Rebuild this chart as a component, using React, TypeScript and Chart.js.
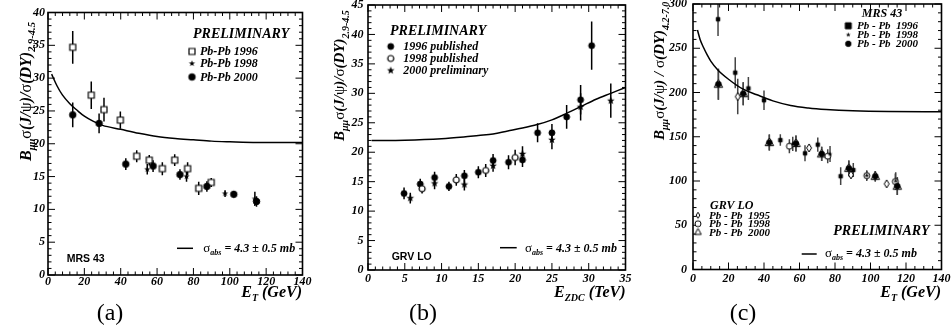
import React, { useEffect, useRef } from 'react';
import { Chart, registerables } from 'chart.js';
Chart.register(...registerables);

// ---------------- Panel (a): E_T (GeV) ----------------
const aXTicks = [0, 20, 40, 60, 80, 100, 120, 140];
const aYTicks = [0, 5, 10, 15, 20, 25, 30, 35, 40];
const a96X = [13.6, 23.8, 30.8, 39.8, 48.8, 55.7, 62.9, 69.7, 76.8, 82.9, 89.8];
const a96Y = [34.7, 27.4, 25.2, 23.6, 18.1, 17.5, 16.2, 17.5, 16.2, 13.2, 14.1];
const a96E = [2.5, 2.1, 1.8, 1.3, 0.9, 0.8, 1.0, 0.9, 1.0, 1.0, 0.7];
const a98X = [54.6, 76.2, 97.4, 113.8];
const a98Y = [16.1, 15.0, 12.4, 11.6];
const a98E = [0.8, 0.8, 0.5, 1.1];
const a00X = [13.6, 28.1, 42.8, 57.8, 72.6, 87.4, 102.2, 114.7];
const a00Y = [24.4, 23.1, 16.9, 16.6, 15.3, 13.5, 12.3, 11.2];
const a00E = [1.9, 1.5, 0.9, 0.9, 0.8, 0.8, 0.5, 0.8];
const aCurveX = [2, 5, 8, 12, 16, 20, 25, 30, 40, 50, 60, 70, 80, 90, 100, 115, 140];
const aCurveY = [30.6, 28.8, 27.4, 26.1, 25.1, 24.2, 23.4, 22.8, 22.2, 21.6, 21.1, 20.8, 20.6, 20.4, 20.3, 20.2, 20.2];

// ---------------- Panel (b): E_ZDC (TeV) ----------------
const bXTicks = [0, 5, 10, 15, 20, 25, 30, 35];
const bYTicks = [0, 5, 10, 15, 20, 25, 30, 35, 40, 45];
const b96X = [4.9, 7.1, 9.05, 11.0, 13.1, 15.0, 17.0, 19.1, 21.0, 23.05, 25.0, 27.0, 28.9, 30.4];
const b96Y = [13.0, 14.6, 15.7, 14.2, 16.0, 16.6, 18.6, 18.3, 18.7, 23.3, 23.3, 26.0, 28.9, 38.1];
const b96E = [1.0, 0.9, 1.0, 0.8, 1.0, 1.0, 1.1, 1.2, 1.2, 1.6, 1.5, 2.0, 2.5, 4.1];
const b98X = [7.35, 12.0, 16.0, 20.0];
const b98Y = [13.8, 15.3, 16.9, 19.1];
const b98E = [0.8, 1.0, 1.1, 1.3];
const b00X = [5.75, 9.05, 13.1, 17.0, 21.0, 25.0, 28.9, 33.0];
const b00Y = [12.2, 14.7, 14.5, 17.7, 19.7, 22.1, 27.7, 28.75];
const b00E = [0.9, 1.0, 1.0, 1.0, 1.3, 1.6, 2.3, 2.9];
const bCurveX = [0.5, 5, 10, 13, 15, 17, 19, 21, 23, 25, 27, 29, 31, 33, 35];
const bCurveY = [22.0, 22.05, 22.3, 22.6, 22.85, 23.1, 23.6, 24.1, 24.7, 25.5, 26.6, 27.8, 29.0, 30.0, 31.0];

// ---------------- Panel (c): E_T (GeV) ----------------
const cXTicks = [0, 20, 40, 60, 80, 100, 120, 140];
const cYTicks = [0, 50, 100, 150, 200, 250, 300];
const cMrs96X = [14.1, 23.8, 31.2, 40.0, 49.2, 63.1, 70.3, 83.2, 90.3];
const cMrs96Y = [282.8, 222.4, 204.6, 191.3, 146.2, 131.3, 141.1, 105.4, 112.4];
const cMrs96E = [19, 17.5, 13, 11, 6.5, 9, 8, 10, 8];
const cMrs98X = [56.2, 77.2, 97.9, 114.2];
const cMrs98Y = [142.0, 130.5, 106.3, 100.0];
const cMrs98E = [8, 9, 5, 10];
const cMrs00X = [14.3, 28.3, 43.0, 58.0, 72.5, 87.8, 102.7, 115.1];
const cMrs00Y = [209.4, 198.7, 143.5, 142.4, 130.6, 114.3, 105.3, 94.2];
const cMrs00E = [17.5, 13, 9, 9, 8, 9, 6, 10];
const cGrv95X = [25.2, 65.4, 89.0, 109.1];
const cGrv95Y = [195.4, 137.4, 107.0, 96.8];
const cGrv95E = [20, 3, 4, 3];
const cGrv98X = [54.3, 75.9, 97.9, 114.0];
const cGrv98Y = [139.3, 128.0, 106.1, 99.4];
const cGrv98E = [8, 8, 6, 9];
const cGrv00X = [14.3, 28.3, 43.0, 58.0, 72.5, 87.8, 102.7, 115.1];
const cGrv00Y = [209.4, 198.7, 143.5, 142.4, 130.6, 114.3, 105.3, 94.2];
const cGrv00E = [17.5, 13, 9, 9, 8, 9, 6, 10];
const cCurveX = [2.5, 4, 6, 8, 10, 14, 20, 28, 36, 45, 55, 65, 75, 90, 110, 140];
const cCurveY = [270.6, 260, 250.5, 242.5, 235.5, 225.5, 215, 204, 197.4, 190.5, 185.3, 182.5, 180.8, 179.3, 178.5, 178.3];

// ---------------- helpers ----------------
const SERIF = '"Liberation Serif", "Times New Roman", serif';
const SANS = '"Liberation Sans", Arial, sans-serif';
const bi = (s: number) => `italic bold ${s}px ${SERIF}`;
const rg = (s: number) => `${s}px ${SERIF}`;
const TICKFONT = { family: SERIF, size: 12, style: 'italic' as const, weight: 'bold' as const };
const Y_AXIS_W = 40;
const X_AXIS_H = 24;

type Seg = [string, string, number?];

function rich(ctx: CanvasRenderingContext2D, segs: Seg[], x: number, y: number, align = 'left') {
  let w = 0;
  segs.forEach(([t, f]) => { ctx.font = f; w += ctx.measureText(t).width; });
  let cx = align === 'right' ? x - w : align === 'center' ? x - w / 2 : x;
  ctx.textAlign = 'left';
  ctx.textBaseline = 'alphabetic';
  segs.forEach(([t, f, dy]) => {
    ctx.font = f;
    ctx.fillText(t, cx, y + (dy || 0));
    cx += ctx.measureText(t).width;
  });
}
function richV(ctx: CanvasRenderingContext2D, segs: Seg[], x: number, y: number) {
  ctx.save();
  ctx.translate(x, y);
  ctx.rotate(-Math.PI / 2);
  rich(ctx, segs, 0, 0);
  ctx.restore();
}
function yTitle(s: number, sub: number, range: string, spaced: boolean): Seg[] {
  return [
    ['B', bi(s)], ['μμ', bi(sub), s * 0.25], ['σ', rg(s)], ['(J/', bi(s)], ['ψ', rg(s)],
    [spaced ? ') / ' : ')/', bi(s)], ['σ', rg(s)], ['(DY)', bi(s)], [range, bi(sub), s * 0.3],
  ];
}
function sigmaAbs(ctx: CanvasRenderingContext2D, x0: number, x1: number, ly: number, tx: number, ty: number) {
  ctx.save();
  ctx.strokeStyle = '#000';
  ctx.lineWidth = 1.5;
  ctx.beginPath(); ctx.moveTo(x0, ly); ctx.lineTo(x1, ly); ctx.stroke();
  ctx.restore();
  rich(ctx, [['σ', rg(13)], ['abs', bi(8), 3], [' = 4.3 ± 0.5 mb', bi(12)]], tx, ty);
}

function marker(shape: string, size: number, filled: boolean, lw = 1): HTMLCanvasElement {
  const d = Math.ceil(size) + 4;
  const c = document.createElement('canvas');
  c.width = d; c.height = d;
  const g = c.getContext('2d')!;
  g.translate(d / 2, d / 2);
  g.fillStyle = filled ? '#000' : '#fff';
  g.strokeStyle = '#000';
  g.lineWidth = lw;
  const r = size / 2;
  g.beginPath();
  if (shape === 'square') g.rect(-r, -r, size, size);
  else if (shape === 'circle') g.arc(0, 0, r, 0, Math.PI * 2);
  else if (shape === 'triangle') { g.moveTo(0, -r); g.lineTo(r * 0.95, r * 0.7); g.lineTo(-r * 0.95, r * 0.7); g.closePath(); }
  else if (shape === 'diamond') { g.moveTo(0, -r); g.lineTo(r * 0.62, 0); g.lineTo(0, r); g.lineTo(-r * 0.62, 0); g.closePath(); }
  else if (shape === 'star') {
    for (let i = 0; i < 10; i++) {
      const a = -Math.PI / 2 + (i * Math.PI) / 5;
      const rr = i % 2 === 0 ? r : r * 0.42;
      if (i === 0) g.moveTo(rr * Math.cos(a), rr * Math.sin(a)); else g.lineTo(rr * Math.cos(a), rr * Math.sin(a));
    }
    g.closePath();
  }
  g.fill();
  if (shape !== 'star') g.stroke();
  return c;
}
function putMarker(ctx: CanvasRenderingContext2D, img: HTMLCanvasElement, x: number, y: number) {
  ctx.drawImage(img, x - img.width / 2, y - img.height / 2);
}

const pts = (xs: number[], ys: number[]) => xs.map((x, i) => ({ x, y: ys[i] }));
function scat(xs: number[], ys: number[], es: number[], img: HTMLCanvasElement, errColor = '#000', errWidth = 1.5) {
  return { type: 'scatter', data: pts(xs, ys), errors: es, errColor, errWidth, pointStyle: img, pointRadius: 3, pointHoverRadius: 3, showLine: false };
}
function curve(xs: number[], ys: number[]) {
  return { type: 'line', data: pts(xs, ys), borderColor: '#000', borderWidth: 1.5, pointRadius: 0, fill: false, cubicInterpolationMode: 'monotone' };
}

const errorBars = {
  id: 'errorBars',
  beforeDatasetsDraw(chart: any) {
    const { ctx, chartArea: ca, scales: { x, y } } = chart;
    ctx.save();
    ctx.beginPath(); ctx.rect(ca.left, ca.top, ca.right - ca.left, ca.bottom - ca.top); ctx.clip();
    chart.data.datasets.forEach((ds: any) => {
      if (!ds.errors) return;
      ctx.strokeStyle = ds.errColor; ctx.lineWidth = ds.errWidth;
      ds.data.forEach((p: any, j: number) => {
        const px = x.getPixelForValue(p.x);
        ctx.beginPath();
        ctx.moveTo(px, y.getPixelForValue(p.y - ds.errors[j]));
        ctx.lineTo(px, y.getPixelForValue(p.y + ds.errors[j]));
        ctx.stroke();
      });
    });
    ctx.restore();
  },
};

function makeFrame(xr: number[], yr: number[], xT: number[], yT: number[], xMinor: number, yMinor: number) {
  return {
    id: 'rootFrame',
    afterDraw(chart: any) {
      const ctx: CanvasRenderingContext2D = chart.ctx;
      const ca = chart.chartArea;
      const sx = chart.scales.x;
      const sy = chart.scales.y;
      const MAJ = 7, MIN = 3.5;
      ctx.save();
      ctx.strokeStyle = '#000';
      ctx.fillStyle = '#000';
      ctx.lineWidth = 1;
      const nx = Math.round((xr[1] - xr[0]) / xMinor);
      for (let i = 0; i <= nx; i++) {
        const v = xr[0] + i * xMinor;
        const len = xT.some((t) => Math.abs(t - v) < 1e-6) ? MAJ : MIN;
        const px = sx.getPixelForValue(v);
        ctx.beginPath();
        ctx.moveTo(px, ca.bottom); ctx.lineTo(px, ca.bottom - len);
        ctx.moveTo(px, ca.top); ctx.lineTo(px, ca.top + len);
        ctx.stroke();
      }
      const ny = Math.round((yr[1] - yr[0]) / yMinor);
      for (let i = 0; i <= ny; i++) {
        const v = yr[0] + i * yMinor;
        const len = yT.some((t) => Math.abs(t - v) < 1e-6) ? MAJ : MIN;
        const py = sy.getPixelForValue(v);
        ctx.beginPath();
        ctx.moveTo(ca.left, py); ctx.lineTo(ca.left + len, py);
        ctx.moveTo(ca.right, py); ctx.lineTo(ca.right - len, py);
        ctx.stroke();
      }
      ctx.lineWidth = 1.6;
      ctx.strokeRect(ca.left, ca.top, ca.right - ca.left, ca.bottom - ca.top);
      ctx.restore();
    },
  };
}

function axis(pos: string, min: number, max: number, ticks: number[], pad: number) {
  const isX = pos === 'bottom';
  return {
    type: 'linear', position: pos, min, max, display: true,
    grid: { display: false, drawTicks: false },
    border: { display: false },
    ticks: { font: TICKFONT, color: '#000', padding: pad, maxRotation: 0, autoSkip: false },
    afterBuildTicks: (s: any) => { s.ticks = ticks.map((v) => ({ value: v })); },
    afterFit: (s: any) => {
      if (isX) s.height = X_AXIS_H; else s.width = Y_AXIS_W;
      s.paddingLeft = 0; s.paddingRight = 0; s.paddingTop = 0; s.paddingBottom = 0;
    },
  };
}

function config(datasets: any[], area: number[], xr: number[], yr: number[], xT: number[], yT: number[],
  xPad: number, yPad: number, xMinor: number, yMinor: number, annot: (ctx: CanvasRenderingContext2D) => void): any {
  const [l, t, r, b] = area;
  return {
    type: 'scatter',
    data: { datasets },
    options: {
      responsive: false, animation: false, devicePixelRatio: 1, events: [],
      layout: { padding: { left: l - Y_AXIS_W, top: t, right: 952 - r, bottom: 334 - b - X_AXIS_H } },
      scales: { x: axis('bottom', xr[0], xr[1], xT, xPad), y: axis('left', yr[0], yr[1], yT, yPad) },
      plugins: { legend: { display: false }, tooltip: { enabled: false } },
    },
    plugins: [errorBars, makeFrame(xr, yr, xT, yT, xMinor, yMinor), { id: 'annot', afterDraw: (ch: any) => { ch.ctx.save(); ch.ctx.fillStyle = '#000'; annot(ch.ctx); ch.ctx.restore(); } }],
  };
}

function cfgA() {
  const sq = marker('square', 6, false, 1.2);
  const st = marker('star', 6.5, true);
  const ci = marker('circle', 6.5, true);
  const ds = [scat(a00X, a00Y, a00E, ci), scat(a98X, a98Y, a98E, st), scat(a96X, a96Y, a96E, sq), curve(aCurveX, aCurveY)];
  return config(ds, [48, 12.5, 302.5, 275], [0, 140], [0, 40], aXTicks, aYTicks, -0.7, 3, 4, 1, (ctx) => {
    richV(ctx, yTitle(16, 10.5, '2.9-4.5', false), 30.5, 161);
    rich(ctx, [['E', bi(16)], ['T', bi(10), 4], [' (GeV)', bi(16)]], 302, 297, 'right');
    rich(ctx, [['PRELIMINARY', bi(14)]], 193, 37.5);
    const rows: [HTMLCanvasElement, string, number][] = [[sq, 'Pb-Pb 1996', 55], [st, 'Pb-Pb 1998', 67], [ci, 'Pb-Pb 2000', 80.5]];
    rows.forEach(([m, t, yb]) => { putMarker(ctx, m, 192, yb - 3.5); rich(ctx, [[t, bi(12)]], 200, yb); });
    ctx.font = `bold 10.5px ${SANS}`; ctx.textAlign = 'left'; ctx.fillText('MRS 43', 66.7, 261.7);
    sigmaAbs(ctx, 177, 193, 248.3, 203.3, 252);
    rich(ctx, [['(a)', rg(24)]], 110, 320, 'center');
  });
}

function cfgB() {
  const ci = marker('circle', 6, true);
  const oc = marker('circle', 6, false, 1.2);
  const st = marker('star', 8, true);
  const ds = [scat(b00X, b00Y, b00E, st), scat(b98X, b98Y, b98E, oc), scat(b96X, b96Y, b96E, ci), curve(bCurveX, bCurveY)];
  return config(ds, [368, 5, 625.5, 270], [0, 35], [0, 45], bXTicks, bYTicks, 2, 4.5, 1, 1, (ctx) => {
    richV(ctx, yTitle(15, 10, '2.9-4.5', false), 344, 141);
    rich(ctx, [['E', bi(16)], ['ZDC', bi(10), 4], [' (TeV)', bi(16)]], 625.5, 297, 'right');
    rich(ctx, [['PRELIMINARY', bi(14)]], 390, 35);
    const rows: [HTMLCanvasElement, string, number][] = [[ci, '1996 published', 50], [oc, '1998 published', 62], [st, '2000 preliminary', 74]];
    rows.forEach(([m, t, yb]) => { putMarker(ctx, m, 390.7, yb - 3.5); rich(ctx, [[t, bi(12)]], 403.3, yb); });
    ctx.font = `bold 10.5px ${SANS}`; ctx.textAlign = 'left'; ctx.fillText('GRV LO', 391.7, 260);
    sigmaAbs(ctx, 500, 516.7, 247.7, 525, 252);
    rich(ctx, [['(b)', rg(24)]], 423, 320, 'center');
  });
}

function cfgC() {
  const sq = marker('square', 3.5, true);
  const st = marker('star', 5, true);
  const ci = marker('circle', 5.5, true);
  const di = marker('diamond', 8, false, 1);
  const oc = marker('circle', 6, false, 1);
  const tr = marker('triangle', 9, false, 1);
  const E = '#444';
  const ds = [
    scat(cMrs00X, cMrs00Y, cMrs00E, ci, E), scat(cMrs98X, cMrs98Y, cMrs98E, st, E), scat(cMrs96X, cMrs96Y, cMrs96E, sq, E),
    scat(cGrv98X, cGrv98Y, cGrv98E, oc, E), scat(cGrv95X, cGrv95Y, cGrv95E, di, E), scat(cGrv00X, cGrv00Y, cGrv00E, tr, E),
    curve(cCurveX, cCurveY),
  ];
  return config(ds, [693, 0, 941.5, 269.5], [0, 140], [0, 300], cXTicks, cYTicks, 2.5, 6, 5, 10, (ctx) => {
    richV(ctx, yTitle(15, 10, '4.2-7.0', true), 664, 140);
    rich(ctx, [['E', bi(16)], ['T', bi(10), 4], [' (GeV)', bi(16)]], 941, 297, 'right');
    rich(ctx, [['MRS 43', bi(12)]], 882, 16.7, 'center');
    const mrs: [HTMLCanvasElement, string, number][] = [[marker('square', 6, true), 'Pb - Pb  1996', 29.3], [st, 'Pb - Pb  1998', 38.3], [ci, 'Pb - Pb  2000', 47.3]];
    mrs.forEach(([m, t, yb]) => { putMarker(ctx, m, 848.3, yb - 3.5); rich(ctx, [[t, bi(11)]], 857, yb); });
    rich(ctx, [['GRV LO', bi(12)]], 731.7, 208.5, 'center');
    const grv: [HTMLCanvasElement, string, number][] = [[marker('diamond', 6, false), 'Pb - Pb  1995', 218.8], [marker('circle', 6, false), 'Pb - Pb  1998', 227.2], [marker('triangle', 7, false), 'Pb - Pb  2000', 235.5]];
    grv.forEach(([m, t, yb]) => { putMarker(ctx, m, 698, yb - 3.5); rich(ctx, [[t, bi(11)]], 709, yb); });
    rich(ctx, [['PRELIMINARY', bi(14)]], 833.3, 235);
    sigmaAbs(ctx, 801.7, 816.7, 254, 825, 257);
    rich(ctx, [['(c)', rg(24)]], 743, 320, 'center');
  });
}

export default function App() {
  const ra = useRef<HTMLCanvasElement>(null);
  const rb = useRef<HTMLCanvasElement>(null);
  const rc = useRef<HTMLCanvasElement>(null);
  useEffect(() => {
    const charts = [new Chart(ra.current!, cfgA()), new Chart(rb.current!, cfgB()), new Chart(rc.current!, cfgC())];
    return () => charts.forEach((c) => c.destroy());
  }, []);
  const cs: React.CSSProperties = { position: 'absolute', left: 0, top: 0 };
  return (
    <div style={{ position: 'absolute', left: 0, top: 0, width: 952, height: 334, background: '#fff', overflow: 'hidden' }}>
      <canvas ref={ra} width={952} height={334} style={cs} />
      <canvas ref={rb} width={952} height={334} style={cs} />
      <canvas ref={rc} width={952} height={334} style={cs} />
    </div>
  );
}
